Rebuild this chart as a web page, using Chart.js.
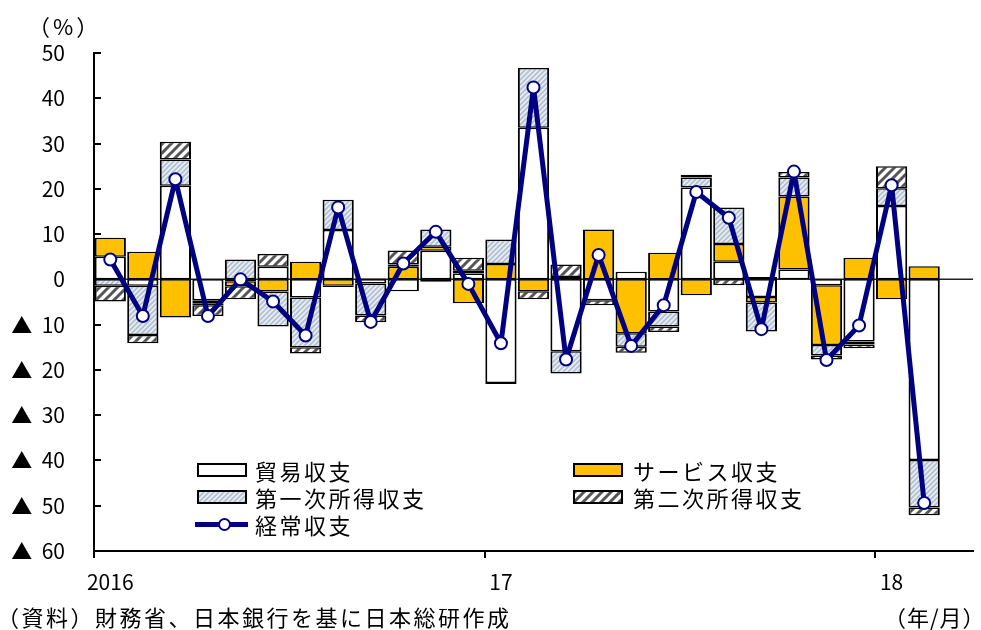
<!DOCTYPE html>
<html lang="ja">
<head>
<meta charset="utf-8">
<title>経常収支の要因分解</title>
<script src="https://cdn.jsdelivr.net/npm/chart.js@4.4.1/dist/chart.umd.min.js"></script>
<style>
  body { margin: 0; background: #fff; }
  #wrap { position: relative; width: 981px; height: 630px; overflow: hidden; font-family: "Noto Sans CJK JP", sans-serif; color: #000; }
  #chart { position: absolute; left: 0; top: 0; }
  .txt { position: absolute; white-space: nowrap; font-size: 22px; line-height: 22px; letter-spacing: 2.5px; }
  .sw { position: absolute; box-sizing: border-box; width: 50px; height: 14px; border: 2px solid #000; }
</style>
</head>
<body>
<div id="wrap">
  <canvas id="chart" width="981" height="630"></canvas>

  <div class="txt" style="left:28px; top:14px; font-size:22px; letter-spacing:3px;">（%）</div>

  <!-- legend -->
  <div class="sw" id="swTrade" style="left:197px; top:463px; background:#fff;"></div>
  <div class="txt" style="left:255px; top:459px;">貿易収支</div>
  <div class="sw" id="swServices" style="left:573px; top:463px; background:#ffc000;"></div>
  <div class="txt" style="left:633px; top:459px;">サービス収支</div>
  <div class="sw" id="swPrimary" style="left:197px; top:490px;"></div>
  <div class="txt" style="left:255px; top:486px;">第一次所得収支</div>
  <div class="sw" id="swSecondary" style="left:573px; top:490px;"></div>
  <div class="txt" style="left:633px; top:486px;">第二次所得収支</div>
  <div style="position:absolute; left:195px; top:522px; width:53px; height:5px; background:#000080;"></div>
  <div style="position:absolute; left:218px; top:518px; width:13px; height:13px; box-sizing:border-box; border:2px solid #000080; border-radius:50%; background:#fff;"></div>
  <div class="txt" style="left:255px; top:513px;">経常収支</div>

  <!-- notes -->
  <div class="txt" style="left:-3px; top:605px;">（資料）財務省、日本銀行を基に日本総研作成</div>
  <div class="txt" style="left:884px; top:605px; letter-spacing:1px;">（年/月）</div>
</div>

<script>
// Months, Jan 2016 to Mar 2018 (last slot is empty)
const months = [
  '2016/1', '2016/2', '2016/3', '2016/4', '2016/5', '2016/6', '2016/7', '2016/8', '2016/9', '2016/10', '2016/11', '2016/12',
  '2017/1', '2017/2', '2017/3', '2017/4', '2017/5', '2017/6', '2017/7', '2017/8', '2017/9', '2017/10', '2017/11', '2017/12',
  '2018/1', '2018/2', '2018/3'
];
const xTickLabels = ['2016', '', '', '', '', '', '', '', '', '', '', '',
  '17', '', '', '', '', '', '', '', '', '', '', '',
  '18', '', ''];

// Contributions (%)
const tradeBalance = [5.0, -1.4, 20.7, -4.6, -0.4, 2.8, -4.0, 10.9, -0.9, -2.6, 6.3, 1.3,
  -22.9, 33.5, -15.9, -4.6, 1.7, -7.1, 20.3, 3.9, -3.9, 2.2, -1.3, -13.7,
  16.2, -39.9, null];
const servicesBalance = [4.2, 6.1, -8.4, -0.7, -1.1, -2.7, 3.9, -1.4, 0.2, 2.8, 0.9, -5.3,
  3.4, -2.6, 0.5, 11.0, -11.9, 5.9, -3.5, 3.9, -1.2, 16.1, -13.2, 4.8,
  -4.4, 2.9, null];
const primaryIncome = [-1.4, -10.9, 5.8, -0.4, 4.4, -7.7, -11.0, 6.7, -7.1, 0.5, 3.8, 0.6,
  5.4, 13.2, -4.9, 0.0, -3.0, -3.3, 2.2, 8.1, -6.4, 4.2, -2.3, -0.7,
  3.9, -10.5, null];
const secondaryIncome = [-3.5, -1.8, 3.9, -2.4, -2.9, 2.8, -1.4, -0.3, -1.5, 3.1, -0.5, 2.9,
  -0.2, -1.8, 2.8, -1.1, -1.3, -1.2, 0.6, -1.3, 0.5, 1.2, -0.9, -0.8,
  4.9, -1.7, null];
const currentAccount = [4.4, -8.1, 22.1, -8.1, 0.0, -4.9, -12.4, 15.9, -9.4, 3.5, 10.5, -1.0,
  -14.1, 42.4, -17.7, 5.4, -14.7, -5.7, 19.3, 13.6, -11.0, 23.8, -17.8, -10.2,
  20.8, -49.4, null];

const FONT = '"Noto Sans CJK JP", sans-serif';

// diagonal hatch tiles ("/" direction)
function makeHatch(bg, fg, size, lw) {
  const c = document.createElement('canvas');
  c.width = size;
  c.height = size;
  const g = c.getContext('2d');
  g.fillStyle = bg;
  g.fillRect(0, 0, size, size);
  g.strokeStyle = fg;
  g.lineWidth = lw;
  g.beginPath();
  g.moveTo(0, size); g.lineTo(size, 0);
  g.moveTo(-size / 2, size / 2); g.lineTo(size / 2, -size / 2);
  g.moveTo(size / 2, size * 1.5); g.lineTo(size * 1.5, size / 2);
  g.stroke();
  return c;
}

const primaryTile = makeHatch('#eaeef4', '#b3c0d1', 5, 1.8);
const secondaryTile = makeHatch('#ffffff', '#555555', 9, 3);

document.getElementById('swPrimary').style.background = `url(${primaryTile.toDataURL()})`;
document.getElementById('swSecondary').style.background = `url(${secondaryTile.toDataURL()})`;

const ctx = document.getElementById('chart').getContext('2d');
const primaryPattern = ctx.createPattern(primaryTile, 'repeat');
const secondaryPattern = ctx.createPattern(secondaryTile, 'repeat');

const barBorder = { top: 1.5, bottom: 1.5, left: 2, right: 2 };

function barSet(label, data, fill) {
  return {
    type: 'bar',
    label: label,
    data: data,
    backgroundColor: fill,
    borderColor: '#000',
    borderWidth: barBorder,
    borderSkipped: false,
    stack: 'bop',
    order: 1,
    barPercentage: 0.96,
    categoryPercentage: 1
  };
}

// zero line under the bars, inward ticks on the y axis
const axisExtras = {
  id: 'axisExtras',
  beforeDatasetsDraw(chart) {
    const { ctx, chartArea, scales: { y } } = chart;
    const y0 = y.getPixelForValue(0);
    ctx.save();
    ctx.strokeStyle = '#222';
    ctx.lineWidth = 1.5;
    ctx.beginPath();
    ctx.moveTo(chartArea.left, y0);
    ctx.lineTo(chartArea.right, y0);
    ctx.stroke();

    ctx.strokeStyle = '#000';
    ctx.lineWidth = 2;
    y.ticks.forEach(t => {
      const py = Math.round(y.getPixelForValue(t.value));
      ctx.beginPath();
      ctx.moveTo(chartArea.left, py);
      ctx.lineTo(chartArea.left + 7, py);
      ctx.stroke();
    });
    ctx.restore();
  }
};

new Chart(ctx, {
  data: {
    labels: months,
    datasets: [
      barSet('貿易収支', tradeBalance, '#ffffff'),
      barSet('サービス収支', servicesBalance, '#ffc000'),
      barSet('第一次所得収支', primaryIncome, primaryPattern),
      barSet('第二次所得収支', secondaryIncome, secondaryPattern),
      {
        type: 'line',
        label: '経常収支',
        data: currentAccount,
        borderColor: '#000080',
        borderWidth: 5,
        borderJoinStyle: 'round',
        borderCapStyle: 'round',
        tension: 0,
        pointRadius: 6,
        pointHoverRadius: 6,
        pointBackgroundColor: '#ffffff',
        pointBorderColor: '#000080',
        pointBorderWidth: 2,
        stack: 'ca',
        order: 0
      }
    ]
  },
  options: {
    responsive: false,
    animation: false,
    devicePixelRatio: 1,
    layout: { padding: { top: 53, right: 8, left: 0, bottom: 0 } },
    plugins: {
      legend: { display: false },
      tooltip: { enabled: false }
    },
    scales: {
      x: {
        stacked: true,
        offset: true,
        grid: {
          offset: true,
          drawOnChartArea: false,
          drawTicks: true,
          tickLength: 7,
          lineWidth: 2,
          color: c => xTickLabels[c.index] ? '#000' : 'rgba(0,0,0,0)'
        },
        border: { color: '#000', width: 2 },
        ticks: {
          autoSkip: false,
          maxRotation: 0,
          padding: 11,
          color: '#000',
          font: { family: FONT, size: 21 },
          callback: (v, i) => xTickLabels[i]
        },
        afterFit: s => { s.height = 79; }
      },
      y: {
        stacked: true,
        min: -60,
        max: 50,
        grid: { display: false },
        border: { color: '#000', width: 2 },
        ticks: {
          stepSize: 10,
          padding: 21,
          color: '#000',
          font: { family: FONT, size: 21 },
          callback: v => v < 0 ? '▲  ' + (-v) : String(v)
        },
        afterFit: s => { s.width = 94; }
      }
    }
  },
  plugins: [axisExtras]
});
</script>
</body>
</html>
